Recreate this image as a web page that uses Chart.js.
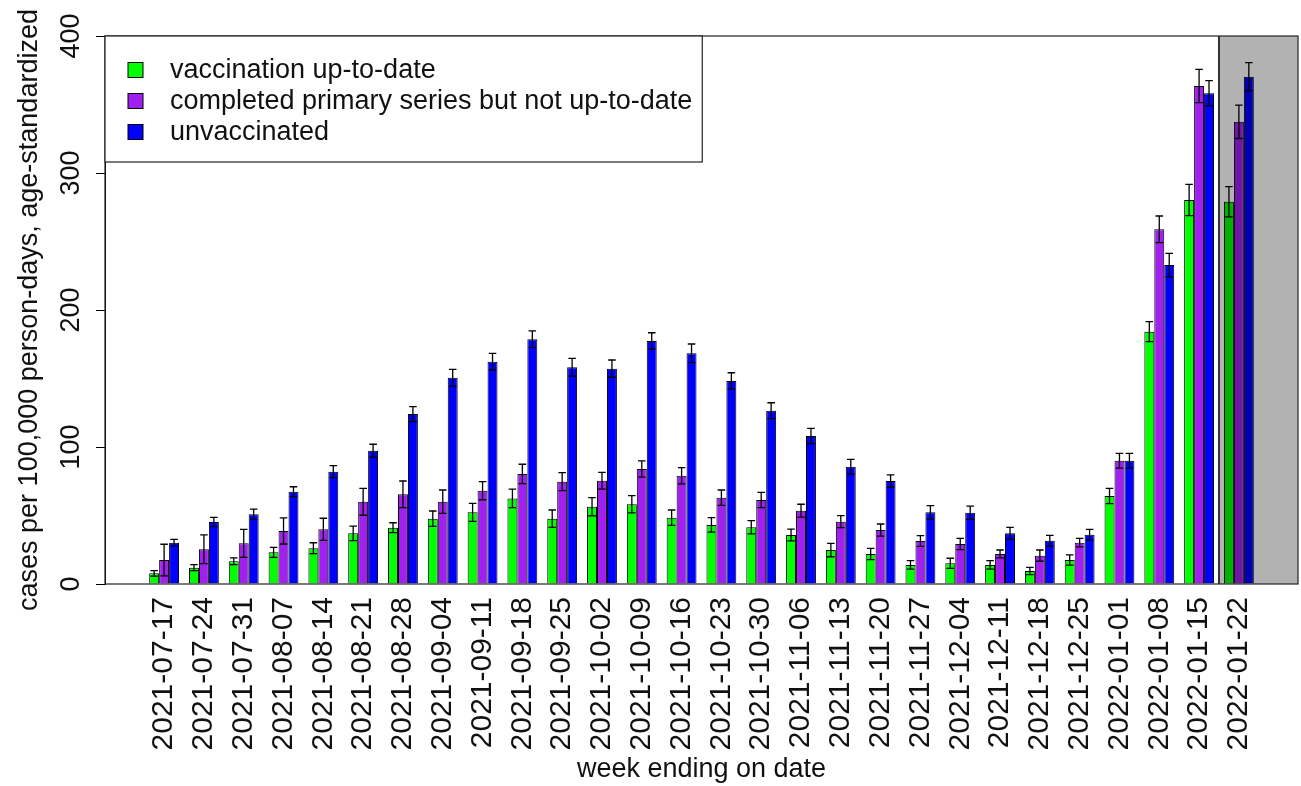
<!DOCTYPE html>
<html lang="en">
<head>
<meta charset="UTF-8">
<title>Cases per 100,000 person-days by vaccination status</title>
<script src="https://cdn.jsdelivr.net/npm/chart.js@4"></script>
<style>
  html, body { margin: 0; padding: 0; background: #fff; }
</style>
</head>
<body>
<canvas id="chart" width="1301" height="786"></canvas>
<script>
// week labels (x axis)
const weeks = ['2021-07-17', '2021-07-24', '2021-07-31', '2021-08-07', '2021-08-14', '2021-08-21',
  '2021-08-28', '2021-09-04', '2021-09-11', '2021-09-18', '2021-09-25', '2021-10-02', '2021-10-09',
  '2021-10-16', '2021-10-23', '2021-10-30', '2021-11-06', '2021-11-13', '2021-11-20', '2021-11-27',
  '2021-12-04', '2021-12-11', '2021-12-18', '2021-12-25', '2022-01-01', '2022-01-08', '2022-01-15',
  '2022-01-22'];

const seriesNames = ['vaccination up-to-date', 'completed primary series but not up-to-date', 'unvaccinated'];
const seriesColors = ['#00ff00', '#a020f0', '#0000ff'];

// rates and half-widths of the error bars
const upToDate = [7.8, 11.9, 16.6, 23.1, 26.1, 37.0, 41.1, 47.7, 52.3, 62.5, 47.7, 56.4, 58.2, 48.4,
  43.1, 41.4, 35.8, 24.8, 21.9, 13.9, 15.1, 13.9, 9.5, 17.5, 64.2, 184.2, 280.3, 279.0];
const upToDateErr = [2.0, 2.2, 2.4, 3.7, 4.0, 5.3, 3.6, 5.6, 6.6, 6.8, 6.3, 6.6, 6.3, 5.6,
  5.3, 4.8, 4.3, 4.9, 4.1, 3.1, 3.7, 3.1, 2.7, 3.7, 5.6, 7.3, 11.4, 11.0];

const primaryOnly = [17.5, 25.3, 29.7, 38.7, 39.9, 60.0, 65.5, 60.1, 68.1, 80.3, 74.7, 75.4, 83.9, 79.0,
  63.0, 61.3, 53.5, 45.5, 39.4, 31.4, 29.2, 21.9, 20.7, 30.2, 90.0, 258.9, 363.5, 337.4];
const primaryOnlyErr = [11.5, 10.5, 10.2, 9.5, 8.1, 9.8, 9.7, 8.5, 6.6, 7.1, 6.6, 6.1, 5.9, 5.9,
  5.6, 5.6, 4.7, 4.4, 4.4, 3.9, 4.1, 2.9, 4.1, 3.1, 5.4, 9.7, 12.2, 12.2];

const unvaccinated = [30.1, 45.3, 50.9, 67.4, 82.0, 97.3, 124.0, 150.6, 162.3, 178.6, 158.2, 157.2, 177.4, 168.4,
  148.2, 126.5, 108.0, 85.6, 75.2, 52.3, 52.0, 37.0, 31.6, 36.0, 90.0, 232.8, 358.2, 370.3];
const unvaccinatedErr = [2.5, 3.4, 3.8, 3.6, 4.4, 4.7, 5.4, 6.1, 6.1, 6.1, 6.5, 6.3, 6.0, 6.8,
  6.0, 5.8, 5.6, 5.4, 4.4, 4.9, 4.9, 4.4, 3.9, 3.9, 5.4, 8.6, 9.2, 10.2];

const yTicks = [0, 100, 200, 300, 400];
const shadedFrom = '2022-01-22';  // incomplete week, greyed out

const family = '"Liberation Sans", Arial, Helvetica, sans-serif';
const textColor = '#111';

function toPoints(values) {
  return values.map((v, i) => ({ x: i, y: v }));
}

function makeDataset(k, values, errors) {
  return {
    label: seriesNames[k],
    data: toPoints(values),
    errors: errors,
    backgroundColor: seriesColors[k],
    borderColor: '#000',
    borderWidth: 1,
    categoryPercentage: 0.75,
    barPercentage: 1.0
  };
}

// error bars, grey shading for the last week, plot frame and legend
const extras = {
  id: 'extras',
  afterDatasetsDraw(chart) {
    const ctx = chart.ctx;
    const ca = chart.chartArea;
    const xs = chart.scales.x;
    const ys = chart.scales.y;

    ctx.save();
    ctx.strokeStyle = '#000';
    ctx.lineWidth = 1.3;
    chart.data.datasets.forEach((ds, d) => {
      chart.getDatasetMeta(d).data.forEach((bar, i) => {
        const v = ds.data[i].y;
        const e = ds.errors[i];
        const top = ys.getPixelForValue(v + e);
        const bot = ys.getPixelForValue(v - e);
        const w = bar.width * 0.38;
        ctx.beginPath();
        ctx.moveTo(bar.x, top); ctx.lineTo(bar.x, bot);
        ctx.moveTo(bar.x - w, top); ctx.lineTo(bar.x + w, top);
        ctx.moveTo(bar.x - w, bot); ctx.lineTo(bar.x + w, bot);
        ctx.stroke();
      });
    });

    // shaded region
    const sx = xs.getPixelForValue(weeks.indexOf(shadedFrom) - 0.5);
    ctx.fillStyle = 'rgba(0, 0, 0, 0.3)';
    ctx.fillRect(sx, ca.top, ca.right - sx, ca.bottom - ca.top);
    ctx.strokeStyle = '#333';
    ctx.lineWidth = 2;
    ctx.beginPath();
    ctx.moveTo(sx, ca.top); ctx.lineTo(sx, ca.bottom);
    ctx.stroke();

    // frame
    ctx.strokeStyle = '#222';
    ctx.lineWidth = 1.2;
    ctx.strokeRect(ca.left, ca.top, ca.right - ca.left, ca.bottom - ca.top);

    // legend box top-left
    ctx.font = '27px ' + family;
    const textX = ca.left + 65;
    const maxW = Math.max(...seriesNames.map(n => ctx.measureText(n).width));
    const boxW = textX - ca.left + maxW + 10;
    const boxH = 126;
    ctx.fillStyle = '#fff';
    ctx.fillRect(ca.left, ca.top, boxW, boxH);
    ctx.strokeRect(ca.left, ca.top, boxW, boxH);
    ctx.textBaseline = 'middle';
    ctx.textAlign = 'left';
    seriesNames.forEach((name, k) => {
      const y = ca.top + 34 + k * 31;
      ctx.fillStyle = seriesColors[k];
      ctx.fillRect(ca.left + 23, y - 7.5, 15, 15);
      ctx.strokeStyle = '#000';
      ctx.lineWidth = 1;
      ctx.strokeRect(ca.left + 23, y - 7.5, 15, 15);
      ctx.fillStyle = textColor;
      ctx.fillText(name, textX, y + 1);
    });
    ctx.restore();
  }
};

new Chart(document.getElementById('chart'), {
  type: 'bar',
  data: {
    datasets: [
      makeDataset(0, upToDate, upToDateErr),
      makeDataset(1, primaryOnly, primaryOnlyErr),
      makeDataset(2, unvaccinated, unvaccinatedErr)
    ]
  },
  options: {
    responsive: false,
    animation: false,
    layout: { padding: { top: 36, right: 3, left: 0, bottom: 0 } },
    plugins: {
      legend: { display: false },
      tooltip: { enabled: false }
    },
    scales: {
      x: {
        type: 'linear',
        min: -1.485,
        max: weeks.length - 1 + 1.485,
        offset: false,
        ticks: {
          stepSize: 1,
          includeBounds: false,
          autoSkip: false,
          minRotation: 90,
          maxRotation: 90,
          padding: 13,
          color: textColor,
          font: { family: family, size: 30 },
          callback: (v) => (Number.isInteger(v) && weeks[v]) ? weeks[v] : ''
        },
        grid: { display: false, drawTicks: false },
        border: { display: false },
        title: {
          display: true,
          text: 'week ending on date',
          color: textColor,
          font: { family: family, size: 27 },
          padding: { top: 0, bottom: 0 }
        },
        afterFit(scale) {
          scale.height = 202;
          scale.paddingLeft = 0;
          scale.paddingRight = 0;
        }
      },
      y: {
        min: yTicks[0],
        max: yTicks[yTicks.length - 1],
        afterBuildTicks(scale) { scale.ticks = yTicks.map(v => ({ value: v })); },
        ticks: {
          minRotation: 90,
          maxRotation: 90,
          crossAlign: 'center',
          padding: 2,
          color: textColor,
          font: { family: family, size: 27 }
        },
        grid: { drawOnChartArea: false, tickLength: 9, color: '#000', tickWidth: 1 },
        border: { display: true, color: '#000' },
        title: {
          display: true,
          text: 'cases per 100,000 person-days, age-standardized',
          color: textColor,
          font: { family: family, size: 27 },
          padding: { top: 13, bottom: 0 }
        },
        afterFit(scale) {
          scale.width = 105;
          scale.paddingTop = 0;
          scale.paddingBottom = 0;
        }
      }
    }
  },
  plugins: [extras]
});
</script>
</body>
</html>
